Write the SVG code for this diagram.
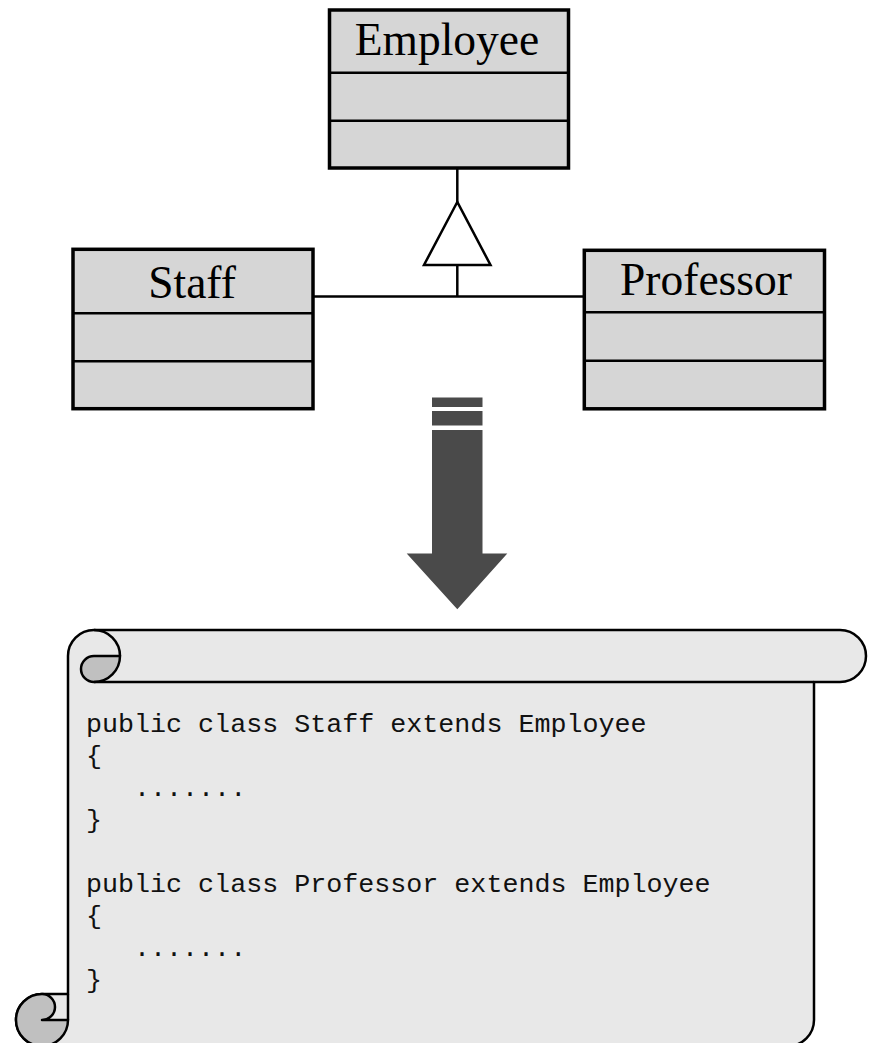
<svg xmlns="http://www.w3.org/2000/svg" width="871" height="1043" viewBox="0 0 871 1043">
<style>
.box{fill:#d6d6d6;stroke:#000;stroke-width:3.5}
.div{stroke:#000;stroke-width:2.5}
.cls{font-family:"Liberation Serif","Times New Roman",serif;font-size:45.5px;fill:#000;text-anchor:middle}
.conn{stroke:#000;stroke-width:2.5;fill:none}
.code{font-family:"Liberation Mono","Courier New",monospace;font-size:26.7px;fill:#111}
.scroll{fill:#e8e8e8;stroke:#000;stroke-width:2.5;stroke-linejoin:round}
.curl{fill:#c0c0c0;stroke:#000;stroke-width:2.5;stroke-linejoin:round}
.ln{fill:none;stroke:#000;stroke-width:2.5}
</style>
<rect width="871" height="1043" fill="#fff"/>
<g id="connectors">
<line class="conn" x1="457.3" y1="169" x2="457.3" y2="202"/>
<polygon points="457.3,202 424,265 490.5,265" fill="#fff" stroke="#000" stroke-width="2.5" stroke-linejoin="miter"/>
<line class="conn" x1="457.3" y1="265" x2="457.3" y2="296.5"/>
<line class="conn" x1="313" y1="296.5" x2="584" y2="296.5"/>
</g>
<g id="employee">
<rect class="box" x="329.5" y="10" width="239" height="158"/>
<line class="div" x1="329.5" y1="72.7" x2="568.5" y2="72.7"/>
<line class="div" x1="329.5" y1="120.7" x2="568.5" y2="120.7"/>
<text class="cls" x="447" y="55">Employee</text>
</g>
<g id="staff">
<rect class="box" x="73" y="249.3" width="240" height="159.4"/>
<line class="div" x1="73" y1="313.3" x2="313" y2="313.3"/>
<line class="div" x1="73" y1="361.3" x2="313" y2="361.3"/>
<text class="cls" x="192" y="297.5">Staff</text>
</g>
<g id="professor">
<rect class="box" x="584.3" y="250.3" width="240.2" height="158.5"/>
<line class="div" x1="584.3" y1="312.3" x2="824.5" y2="312.3"/>
<line class="div" x1="584.3" y1="360.7" x2="824.5" y2="360.7"/>
<text class="cls" x="706" y="295">Professor</text>
</g>
<g id="arrow" fill="#4a4a4a">
<rect x="432" y="397.5" width="50.5" height="9.5"/>
<rect x="432" y="411" width="50.5" height="14.5"/>
<polygon points="432,430 482.5,430 482.5,553.5 507.3,553.5 457.3,609.3 406.7,553.5 432,553.5"/>
</g>
<g id="scroll">
<path class="scroll" d="M94,630 L840,630 A26,26 0 0 1 840,682 L814,682 L814,1020 A26,26 0 0 1 788,1046 L42,1046 A26,26 0 0 1 16,1020 A26,26 0 0 1 42,994 L68,994 L68,656 A26,26 0 0 1 94,630 Z"/>
<path class="ln" d="M94,630 A26,26 0 0 1 120,656"/>
<path class="curl" d="M94,656 L120,656 A26,26 0 0 1 94,682 A13,13 0 0 1 94,656 Z"/>
<line class="ln" x1="94" y1="682" x2="814" y2="682"/>
<path class="curl" d="M42,994 A26,26 0 1 0 68,1020 L42,1020 A13,13 0 0 0 42,994 Z"/>
<line class="ln" x1="68" y1="994" x2="68" y2="1020"/>
<text class="code" x="86" y="732">public class Staff extends Employee</text>
<text class="code" x="86" y="764">{</text>
<text class="code" x="86" y="796" xml:space="preserve">   .......</text>
<text class="code" x="86" y="828">}</text>
<text class="code" x="86" y="892">public class Professor extends Employee</text>
<text class="code" x="86" y="924">{</text>
<text class="code" x="86" y="956" xml:space="preserve">   .......</text>
<text class="code" x="86" y="988">}</text>
</g>
</svg>
